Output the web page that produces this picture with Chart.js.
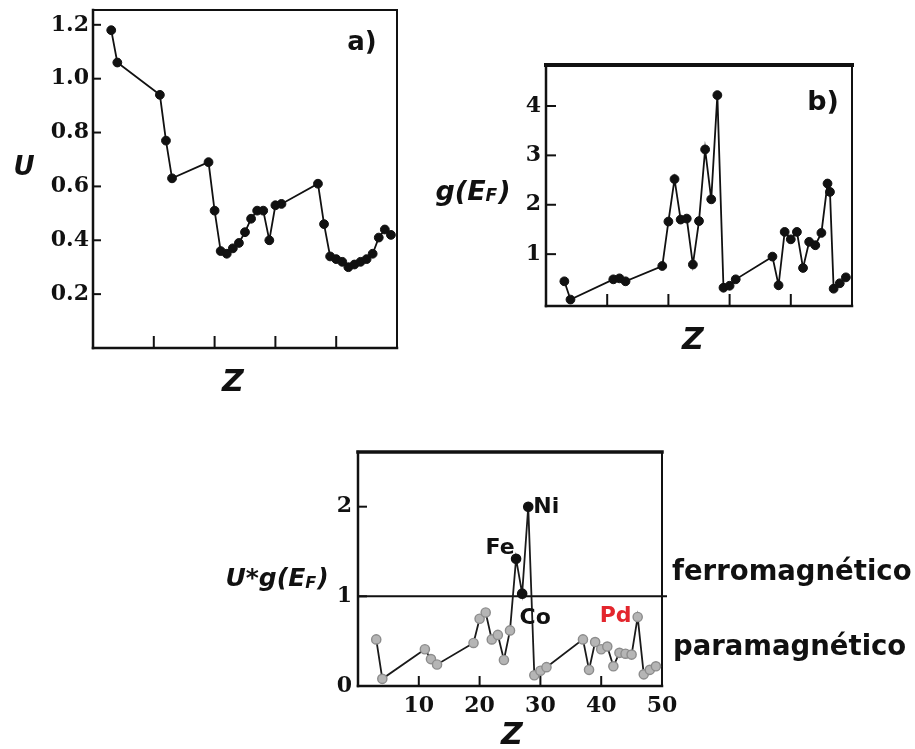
<!DOCTYPE html>
<html>
<head>
<meta charset="utf-8">
<script src="https://cdn.jsdelivr.net/npm/chart.js@4.4.1/dist/chart.umd.min.js"></script>
<style>
  body { margin: 0; background: #fff; width: 915px; height: 749px; position: relative; overflow: hidden; }
  canvas { position: absolute; }
</style>
</head>
<body>
<canvas id="panel-a" width="410" height="400" style="left:0;top:0"></canvas>
<canvas id="panel-b" width="440" height="320" style="left:420px;top:50px"></canvas>
<canvas id="panel-c" width="715" height="309" style="left:200px;top:440px"></canvas>
<script>
// ---- Data ----
// atomic numbers: Li..Al, K..Ga, Rb..In
const zValues = [3, 4, 11, 12, 13, 19, 20, 21, 22, 23, 24, 25, 26, 27, 28, 29, 30, 31,
                 37, 38, 39, 40, 41, 42, 43, 44, 45, 46, 47, 48, 49];
// density of states has a second point next to Pd
const zDos = [3, 4, 11, 12, 13, 19, 20, 21, 22, 23, 24, 25, 26, 27, 28, 29, 30, 31,
              37, 38, 39, 40, 41, 42, 43, 44, 45, 46, 46.4, 47, 48, 49];

const uValues = [1.18, 1.06, 0.94, 0.77, 0.63, 0.69, 0.51, 0.36, 0.35, 0.37, 0.39, 0.43, 0.48, 0.51, 0.51, 0.40,
                 0.53, 0.535, 0.61, 0.46, 0.34, 0.33, 0.32, 0.30, 0.31, 0.32, 0.33, 0.35, 0.41, 0.44, 0.42];
const dosValues = [0.45, 0.08, 0.49, 0.51, 0.45, 0.76, 1.66, 2.52, 1.70, 1.72, 0.79, 1.67, 3.12, 2.11, 4.22, 0.32,
                   0.36, 0.49, 0.95, 0.37, 1.45, 1.30, 1.45, 0.72, 1.25, 1.18, 1.43, 2.43, 2.26, 0.30, 0.41, 0.53];
const stonerValues = [0.52, 0.08, 0.41, 0.30, 0.24, 0.48, 0.75, 0.82, 0.52, 0.57, 0.29, 0.62, 1.42, 1.03, 2.0, 0.12,
                      0.17, 0.21, 0.52, 0.18, 0.49, 0.41, 0.44, 0.22, 0.37, 0.36, 0.35, 0.77, 0.13, 0.18, 0.22];

const uTicks = [0.2, 0.4, 0.6, 0.8, 1.0, 1.2];
const dosTicks = [1, 2, 3, 4];
const stonerTicks = [0, 1, 2];
const zTicks = [10, 20, 30, 40, 50];
const stonerLimit = 1;

const markedNames = ["Fe", "Co", "Ni", "Pd"];
const markedZ = [26, 27, 28, 46];

// ---- Styling ----
const INK = "#111";
const SERIF = "'DejaVu Serif', 'Liberation Serif', serif";
const SANS = "'DejaVu Sans', Verdana, sans-serif";

const toPoints = (xs, ys) => xs.map((x, i) => ({ x, y: ys[i] }));

// Box around the plot area plus short ticks pointing inwards
const framePlugin = {
  id: "frame",
  beforeDatasetsDraw(chart, args, opts) {
    const { ctx, chartArea: a, scales } = chart;
    const seg = (w, x1, y1, x2, y2) => {
      if (!w) return;
      ctx.lineWidth = w;
      ctx.beginPath(); ctx.moveTo(x1, y1); ctx.lineTo(x2, y2); ctx.stroke();
    };
    ctx.save();
    ctx.strokeStyle = INK;
    ctx.lineCap = "square";
    const [top, right, bottom, left] = opts.sides;
    seg(top, a.left, a.top, a.right, a.top);
    seg(right, a.right, a.top, a.right, a.bottom);
    seg(bottom, a.left, a.bottom, a.right, a.bottom);
    seg(left, a.left, a.top, a.left, a.bottom);
    ctx.lineCap = "butt";
    scales.x.ticks.forEach(t => {
      const px = scales.x.getPixelForValue(t.value);
      if (px > a.left + 2 && px < a.right - 2) seg(2, px, a.bottom, px, a.bottom - opts.xTick);
    });
    scales.y.ticks.forEach(t => {
      const py = scales.y.getPixelForValue(t.value);
      if (py > a.top + 2 && py < a.bottom - 2) seg(2, a.left, py, a.left + opts.yTick, py);
    });
    if (opts.limit != null) {
      const py = scales.y.getPixelForValue(opts.limit);
      seg(2, a.left, py, a.right + 5, py);
    }
    ctx.restore();
  }
};

// Text pieces; a piece marked "sub" is drawn as a small subscript
function drawRich(ctx, item) {
  const size = item.size;
  const fontFor = sub => `${item.style || "bold"} ${sub ? Math.round(size * 0.62) : size}px ${item.family || SANS}`;
  let width = 0;
  item.parts.forEach(p => { ctx.font = fontFor(p.sub); width += ctx.measureText(p.t).width + (p.sub ? 1 : 0); });
  let x = item.align === "left" ? item.x : item.x - width / 2;
  const base = item.y + size * 0.36;
  ctx.fillStyle = item.color || INK;
  ctx.textBaseline = "alphabetic";
  ctx.textAlign = "left";
  item.parts.forEach(p => {
    ctx.font = fontFor(p.sub);
    ctx.fillText(p.t, x, p.sub ? base + size * 0.06 : base);
    x += ctx.measureText(p.t).width + (p.sub ? 1 : 0);
  });
}

const captionPlugin = {
  id: "captions",
  afterDraw(chart, args, opts) {
    const ctx = chart.ctx;
    ctx.save();
    (opts.items || []).forEach(item => drawRich(ctx, item));
    if (opts.tags) {
      const { x, y } = chart.scales;
      opts.tags.names.forEach((name, i) => {
        const idx = zValues.indexOf(opts.tags.z[i]);
        const off = opts.tags.offsets[name];
        drawRich(ctx, {
          parts: [{ t: name }], size: 22,
          x: x.getPixelForValue(opts.tags.z[i]) + off[0],
          y: y.getPixelForValue(opts.tags.values[idx]) + off[1],
          color: off[2] || INK
        });
      });
    }
    ctx.restore();
  }
};

function scalesFor(o) {
  return {
    x: {
      type: "linear", min: 0, max: 50,
      grid: { display: false, drawTicks: false }, border: { display: false },
      afterBuildTicks: s => { s.ticks = zTicks.map(v => ({ value: v })); },
      ticks: { display: o.xLabels, color: INK, padding: 7, maxRotation: 0,
               font: { family: SERIF, size: 22, weight: "bold" }, callback: v => v },
      afterFit: s => { s.height = o.xHeight; s.paddingLeft = 0; s.paddingRight = 0; }
    },
    y: {
      type: "linear", min: o.yMin, max: o.yMax,
      grid: { display: false, drawTicks: false }, border: { display: false },
      afterBuildTicks: s => { s.ticks = o.yTicks.map(v => ({ value: v })); },
      ticks: { color: INK, padding: o.yPad, font: { family: SERIF, size: 22, weight: "bold" },
               callback: o.yFormat || (v => v) },
      afterFit: s => { s.width = o.yWidth; s.paddingTop = 0; s.paddingBottom = 0; }
    }
  };
}

function baseOptions(o, frame, captions) {
  return {
    responsive: false,
    animation: false,
    devicePixelRatio: 1,
    layout: { padding: o.padding },
    scales: scalesFor(o),
    plugins: { legend: { display: false }, tooltip: { enabled: false }, frame, captions }
  };
}

const blackLine = {
  borderColor: INK, borderWidth: 1.8,
  pointRadius: 4.4, pointBackgroundColor: INK, pointBorderColor: INK, pointBorderWidth: 1
};

// ---- a) U versus Z ----
new Chart(document.getElementById("panel-a"), {
  type: "line",
  data: { datasets: [{ data: toPoints(zValues, uValues), ...blackLine }] },
  options: baseOptions(
    { xLabels: false, xHeight: 52, yMin: 0, yMax: 1.255, yTicks: uTicks, yWidth: 93, yPad: 4,
      yFormat: v => v.toFixed(1), padding: { top: 10, right: 13 } },
    { sides: [2, 2, 2.5, 2.5], xTick: 12, yTick: 8 },
    { items: [
      { parts: [{ t: "U" }], x: 24, y: 166, size: 26, style: "bold italic" },
      { parts: [{ t: "Z" }], x: 233, y: 380, size: 30, style: "bold italic" },
      { parts: [{ t: "a)" }], x: 362, y: 41, size: 26 }
    ] }
  ),
  plugins: [framePlugin, captionPlugin]
});

// ---- b) g(E_F) versus Z ----
new Chart(document.getElementById("panel-b"), {
  type: "line",
  data: { datasets: [{ data: toPoints(zDos, dosValues), ...blackLine }] },
  options: baseOptions(
    { xLabels: false, xHeight: 64, yMin: -0.05, yMax: 4.83, yTicks: dosTicks, yWidth: 126, yPad: 5,
      padding: { top: 15, right: 8 } },
    { sides: [4, 2, 2.5, 2.5], xTick: 12, yTick: 10 },
    { items: [
      { parts: [{ t: "g(E" }, { t: "F", sub: true }, { t: ")" }], x: 53, y: 140, size: 27, style: "bold italic" },
      { parts: [{ t: "Z" }], x: 273, y: 288, size: 30, style: "bold italic" },
      { parts: [{ t: "b)" }], x: 403, y: 50, size: 27 }
    ] }
  ),
  plugins: [framePlugin, captionPlugin]
});

// ---- c) Stoner product U*g(E_F) versus Z ----
const ferro = ctx => ctx.raw && ctx.raw.y > stonerLimit;
new Chart(document.getElementById("panel-c"), {
  type: "line",
  data: { datasets: [{
    data: toPoints(zValues, stonerValues),
    borderColor: "#1a1a1a", borderWidth: 1.8,
    pointRadius: 4.6, pointBorderWidth: 1.4,
    pointBackgroundColor: ctx => ferro(ctx) ? INK : "#b5b5b5",
    pointBorderColor: ctx => ferro(ctx) ? INK : "#8c8c8c"
  }] },
  options: baseOptions(
    { xLabels: true, xHeight: 63, yMin: 0, yMax: 2.61, yTicks: stonerTicks, yWidth: 158, yPad: 6,
      padding: { top: 12, right: 253 } },
    { sides: [3.5, 2, 2.5, 2.5], xTick: 10, yTick: 9, limit: stonerLimit },
    { items: [
      { parts: [{ t: "U*g(E" }, { t: "F", sub: true }, { t: ")" }], x: 77, y: 137, size: 25, style: "bold italic" },
      { parts: [{ t: "Z" }], x: 312, y: 293, size: 30, style: "bold italic" },
      { parts: [{ t: "ferromagnético" }], x: 472, y: 130, size: 27.5, align: "left" },
      { parts: [{ t: "paramagnético" }], x: 473, y: 205, size: 27.5, align: "left" }
    ],
      tags: { names: markedNames, z: markedZ, values: stonerValues,
              offsets: { Fe: [-16, -13], Co: [13, 22], Ni: [18, -2], Pd: [-22, -3, "#e3262d"] } } }
  ),
  plugins: [framePlugin, captionPlugin]
});
</script>
</body>
</html>
